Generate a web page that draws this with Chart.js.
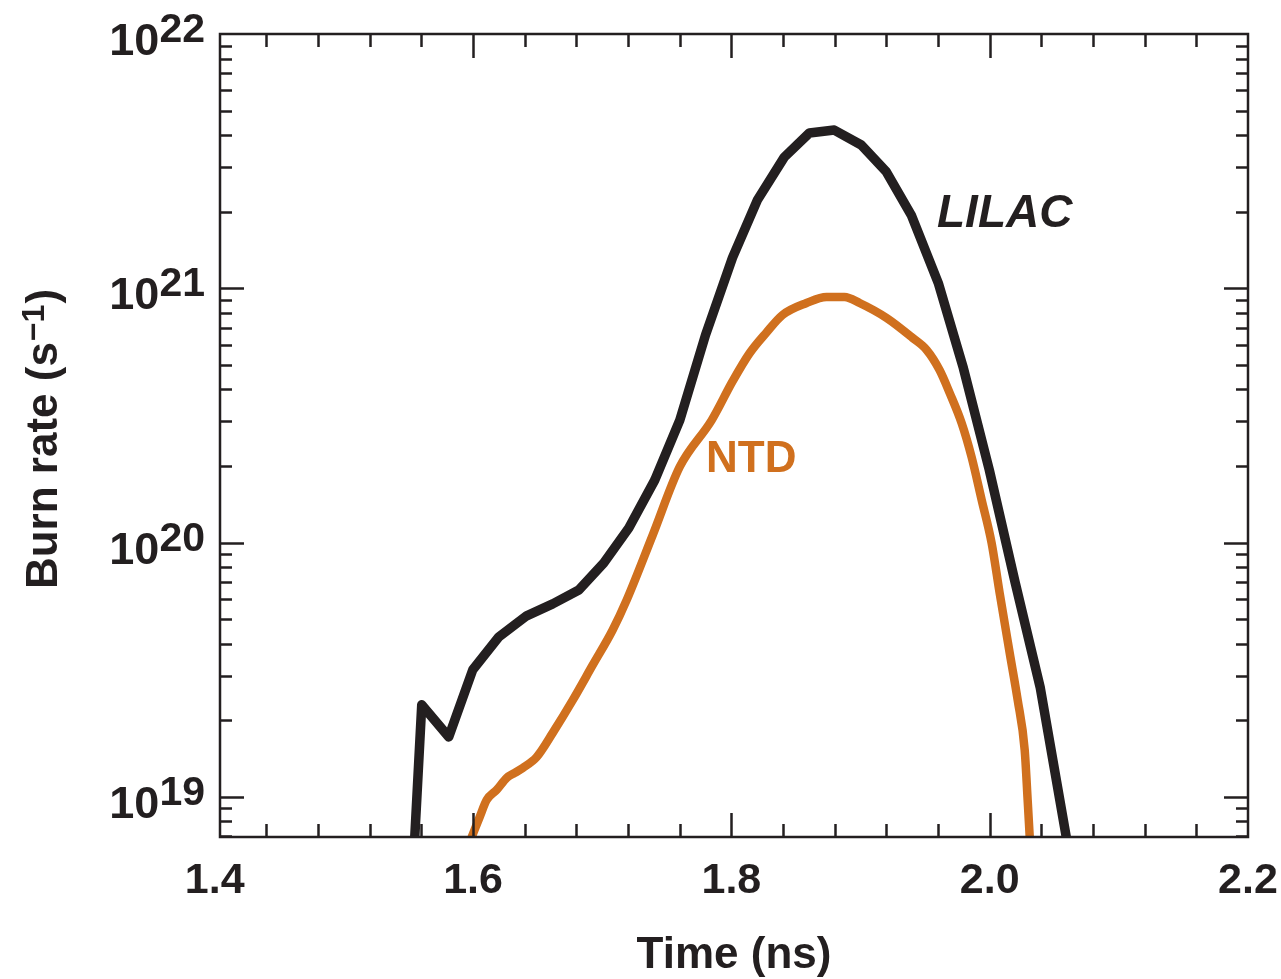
<!DOCTYPE html>
<html>
<head>
<meta charset="utf-8">
<script src="https://cdn.jsdelivr.net/npm/chart.js@4/dist/chart.umd.min.js"></script>
<style>
  html, body { margin: 0; padding: 0; background: #ffffff; }
  #wrap { width: 1281px; height: 979px; position: relative; }
</style>
</head>
<body>
<div id="wrap"><canvas id="c" width="1281" height="979"></canvas></div>
<script>
// ---- Data ----
const lilacTime = [1.5549, 1.5603, 1.5812, 1.5998, 1.6199, 1.6415, 1.6617, 1.6819, 1.7012, 1.7206,
                   1.7407, 1.7601, 1.7800, 1.8009, 1.8203, 1.8410, 1.8604, 1.8797, 1.9006, 1.9200,
                   1.9393, 1.9602, 1.9796, 1.9997, 2.0198, 2.0392, 2.0593];
const lilacRate = [6.95e18, 2.30e19, 1.72e19, 3.16e19, 4.25e19, 5.15e19, 5.74e19, 6.51e19, 8.31e19, 1.14e20,
                   1.76e20, 3.03e20, 6.55e20, 1.32e21, 2.23e21, 3.28e21, 4.08e21, 4.19e21, 3.66e21, 2.87e21,
                   1.94e21, 1.05e21, 4.86e20, 1.93e20, 6.94e19, 2.68e19, 6.95e18];

const ntdTime = [1.5990, 1.6052, 1.6106, 1.6183, 1.6261, 1.6323, 1.6385, 1.6493, 1.6617, 1.6772,
                 1.6927, 1.7081, 1.7190, 1.7391, 1.7600, 1.7848, 1.8009, 1.8141, 1.8272, 1.8396,
                 1.8582, 1.8737, 1.8876, 1.8993, 1.9202, 1.9403, 1.9512, 1.9612, 1.9690, 1.9783,
                 1.9860, 1.9938, 2.0015, 2.0077, 2.0155, 2.0217, 2.0271, 2.0294, 2.0310];
const ntdRate = [6.95e18, 8.34e18, 9.72e18, 1.064e19, 1.187e19, 1.242e19, 1.299e19, 1.435e19, 1.784e19, 2.40e19,
                 3.30e19, 4.53e19, 5.95e19, 1.07e20, 1.983e20, 3.03e20, 4.30e20, 5.55e20, 6.70e20, 7.85e20,
                 8.75e20, 9.24e20, 9.24e20, 8.75e20, 7.64e20, 6.38e20, 5.72e20, 4.77e20, 3.88e20, 2.95e20,
                 2.17e20, 1.47e20, 9.96e19, 6.34e19, 3.68e19, 2.40e19, 1.53e19, 9.72e18, 6.95e18];

const xTickValues = [1.4, 1.6, 1.8, 2.0, 2.2];
const xTickLabels = ['1.4', '1.6', '1.8', '2.0', '2.2'];
const yTickValues = [1e19, 1e20, 1e21, 1e22];
const yTickBase = ['10', '10', '10', '10'];
const yTickExp = ['19', '20', '21', '22'];

const xTitle = 'Time (ns)';
const yTitleMain = 'Burn rate (s';
const yTitleSup = '\u22121';
const yTitleEnd = ')';
const seriesNames = ['LILAC', 'NTD'];

const INK = '#231f20';
const ORANGE = '#d0701e';
const FONT = '"Liberation Sans", Arial, Helvetica, sans-serif';

function pts(xs, ys) { return xs.map((x, i) => ({ x: x, y: ys[i] })); }

const decor = {
  id: 'decor',
  afterDraw(chart) {
    const ctx = chart.ctx;
    const a = chart.chartArea;
    const xs = chart.scales.x, ys = chart.scales.y;
    ctx.save();
    ctx.strokeStyle = INK;
    ctx.fillStyle = INK;
    ctx.lineWidth = 2.5;
    ctx.lineCap = 'butt';
    // frame
    ctx.strokeRect(a.left, a.top, a.right - a.left, a.bottom - a.top);
    // x ticks (every 0.04, long at 0.2)
    ctx.beginPath();
    for (let i = 1; i < 20; i++) {
      const v = 1.4 + 0.04 * i;
      const px = Math.round(xs.getPixelForValue(v)) + 0.5;
      const len = (i % 5 === 0) ? 24 : 13;
      ctx.moveTo(px, a.bottom); ctx.lineTo(px, a.bottom - len);
      ctx.moveTo(px, a.top); ctx.lineTo(px, a.top + len);
    }
    // y ticks
    for (let d = 18; d <= 21; d++) {
      for (let m = 1; m <= 9; m++) {
        const v = m * Math.pow(10, d);
        if (v < ys.min || v > ys.max * 1.0001) continue;
        const py = Math.round(ys.getPixelForValue(v)) + 0.5;
        const len = (m === 1) ? 24 : 12;
        ctx.moveTo(a.left, py); ctx.lineTo(a.left + len, py);
        ctx.moveTo(a.right, py); ctx.lineTo(a.right - len, py);
      }
    }
    ctx.stroke();

    // x tick labels
    ctx.font = 'bold 43px ' + FONT;
    ctx.textAlign = 'center';
    ctx.textBaseline = 'alphabetic';
    xTickValues.forEach((v, i) => {
      ctx.fillText(xTickLabels[i], xs.getPixelForValue(v), 893);
    });

    // y tick labels with superscripts
    yTickValues.forEach((v, i) => {
      const py = ys.getPixelForValue(v);
      ctx.font = 'bold 45px ' + FONT;
      const wb = ctx.measureText(yTickBase[i]).width;
      ctx.font = 'bold 41px ' + FONT;
      const we = ctx.measureText(yTickExp[i]).width;
      const start = 205 - (wb + we);
      ctx.textAlign = 'left';
      ctx.font = 'bold 45px ' + FONT;
      ctx.fillText(yTickBase[i], start, py + 21);
      ctx.font = 'bold 41px ' + FONT;
      ctx.fillText(yTickExp[i], start + wb, py + 8);
    });

    // x title
    ctx.font = 'bold 44px ' + FONT;
    ctx.textAlign = 'center';
    ctx.fillText(xTitle, (a.left + a.right) / 2, 968);

    // y title (rotated)
    ctx.save();
    ctx.translate(57, 439);
    ctx.rotate(-Math.PI / 2);
    ctx.font = 'bold 44px ' + FONT;
    const w1 = ctx.measureText(yTitleMain).width;
    const w3 = ctx.measureText(yTitleEnd).width;
    ctx.font = 'bold 32px ' + FONT;
    const w2 = ctx.measureText(yTitleSup).width;
    const total = w1 + w2 + w3 + 2;
    let x0 = -total / 2;
    ctx.textAlign = 'left';
    ctx.font = 'bold 44px ' + FONT;
    ctx.fillText(yTitleMain, x0, 0);
    ctx.font = 'bold 32px ' + FONT;
    ctx.fillText(yTitleSup, x0 + w1 + 1, -13);
    ctx.font = 'bold 44px ' + FONT;
    ctx.fillText(yTitleEnd, x0 + w1 + w2 + 2, 0);
    ctx.restore();

    // series labels
    ctx.textAlign = 'left';
    ctx.font = 'italic bold 46px ' + FONT;
    ctx.fillStyle = INK;
    ctx.fillText(seriesNames[0], 937, 227);
    ctx.font = 'bold 44px ' + FONT;
    ctx.fillStyle = ORANGE;
    ctx.fillText(seriesNames[1], 706, 472);
    ctx.restore();
  }
};

new Chart(document.getElementById('c'), {
  type: 'line',
  data: {
    datasets: [
      {
        label: seriesNames[0],
        data: pts(lilacTime, lilacRate),
        borderColor: INK,
        borderWidth: 9.5,
        pointRadius: 0,
        tension: 0,
        borderJoinStyle: 'round',
        borderCapStyle: 'round',
        fill: false
      },
      {
        label: seriesNames[1],
        data: pts(ntdTime, ntdRate),
        borderColor: ORANGE,
        borderWidth: 8.5,
        pointRadius: 0,
        cubicInterpolationMode: 'monotone',
        borderJoinStyle: 'round',
        borderCapStyle: 'round',
        fill: false
      }
    ]
  },
  options: {
    responsive: false,
    animation: false,
    devicePixelRatio: 1,
    layout: { padding: { top: 34, right: 33, left: 0, bottom: 0 } },
    plugins: { legend: { display: false }, tooltip: { enabled: false } },
    scales: {
      x: {
        type: 'linear',
        min: 1.4041,
        max: 2.2,
        grid: { display: false },
        border: { display: false },
        ticks: { display: false },
        afterFit(s) { s.height = 142; }
      },
      y: {
        type: 'logarithmic',
        min: 6.95e18,
        max: 1e22,
        grid: { display: false },
        border: { display: false },
        ticks: { display: false },
        afterFit(s) { s.width = 220; }
      }
    }
  },
  plugins: [decor]
});
</script>
</body>
</html>
